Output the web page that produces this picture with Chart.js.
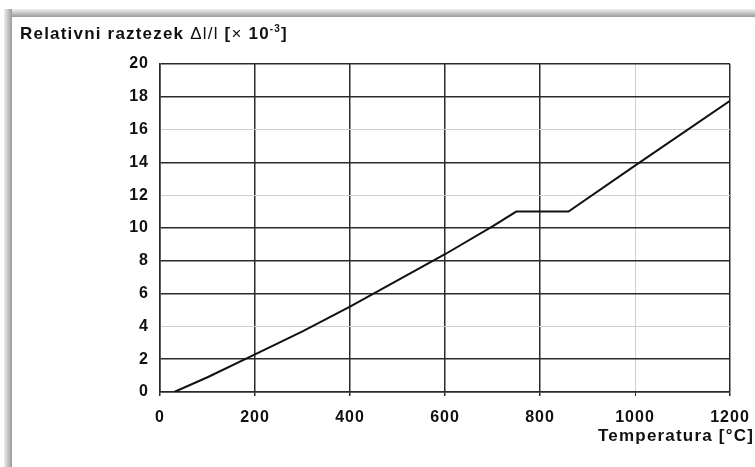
<!DOCTYPE html>
<html>
<head>
<meta charset="utf-8">
<script src="https://cdn.jsdelivr.net/npm/chart.js@4"></script>
<style>
  html, body { margin: 0; padding: 0; background: #fff; }
  #wrap { position: relative; width: 755px; height: 467px; overflow: hidden; font-family: "Liberation Sans", Arial, sans-serif; }
  #frameTop { position: absolute; left: 4px; top: 9px; width: 751px; height: 8px; background: linear-gradient(#f2f2f2, #9a9a9a); }
  #frameLeft { position: absolute; left: 4px; top: 9px; width: 8px; height: 458px; background: linear-gradient(to right, #eeeeee, #9a9a9a); }
  canvas { position: absolute; left: 0; top: 0; }
  .title { position: absolute; font-weight: bold; font-size: 17px; color: #111; white-space: nowrap; letter-spacing: 1.2px; }
  #yTitle { left: 20px; top: 23px; }
  #xTitle { left: 598px; top: 426px; }
  .light { font-weight: normal; }
</style>
</head>
<body>
<div id="wrap">
  <div id="frameTop"></div>
  <div id="frameLeft"></div>
  <canvas id="myChart" width="755" height="467"></canvas>
  <div class="title" id="yTitle">Relativni raztezek <span class="light">Δl/l</span> [<span class="light">×</span> 10<sup style="font-size:10px">-3</sup>]</div>
  <div class="title" id="xTitle">Temperatura [°C]</div>
</div>
<script>
// 温度 (°C) 与 相对伸长 (×10^-3)
const temperatures = [30, 100, 200, 300, 400, 500, 600, 700, 750, 860, 1000, 1200];
const elongation = [0, 0.9, 2.3, 3.7, 5.2, 6.8, 8.4, 10.1, 11.0, 11.0, 13.8, 17.75];

// 坐标轴刻度
const xTicks = [0, 200, 400, 600, 800, 1000, 1200];
const yTicks = [0, 2, 4, 6, 8, 10, 12, 14, 16, 18, 20];

// 扫描图中较淡的网格线
const faintX = [1000];
const faintY = [4, 12, 16];

const points = temperatures.map((t, i) => ({ x: t, y: elongation[i] }));

const ctx = document.getElementById('myChart').getContext('2d');

const tickFont = { family: '"Liberation Sans", Arial, sans-serif', size: 16, weight: 'bold' };

// 字距稍宽一点，接近原图
const spacing = {
    id: 'spacing',
    beforeDraw: chart => { chart.ctx.letterSpacing = '1px'; }
};

const config = {
    type: 'scatter',
    data: {
        datasets: [{
            data: points,
            showLine: true,
            borderColor: '#111',
            borderWidth: 2,
            pointRadius: 0,
            tension: 0
        }]
    },
    options: {
        responsive: false,
        animation: false,
        layout: { padding: { left: 0, right: 25, top: 64, bottom: 0 } },
        plugins: { legend: { display: false }, tooltip: { enabled: false } },
        scales: {
            x: {
                type: 'linear',
                min: 0,
                max: 1200,
                afterBuildTicks: axis => { axis.ticks = xTicks.map(v => ({ value: v })); },
                afterFit: axis => {
                    axis.height = 75;
                    axis.paddingLeft = 0;
                    axis.paddingRight = 0;
                },
                ticks: { color: '#111', font: tickFont, padding: 12, callback: v => String(v) },
                grid: {
                    color: c => faintX.includes(c.tick.value) ? '#cfcfcf' : '#2a2a2a',
                    lineWidth: c => faintX.includes(c.tick.value) ? 1 : 1.5,
                    tickLength: 4,
                    tickColor: '#2a2a2a'
                },
                border: { color: '#2a2a2a', width: 1.5 }
            },
            y: {
                min: 0,
                max: 20,
                afterBuildTicks: axis => { axis.ticks = yTicks.map(v => ({ value: v })); },
                afterFit: axis => { axis.width = 160; },
                ticks: { color: '#111', font: tickFont, padding: 11, callback: v => String(v) },
                grid: {
                    color: c => faintY.includes(c.tick.value) ? '#cfcfcf' : '#2a2a2a',
                    lineWidth: c => faintY.includes(c.tick.value) ? 1 : 1.5,
                    drawTicks: false
                },
                border: { color: '#2a2a2a', width: 1.5 }
            }
        }
    },
    plugins: [spacing]
};

const myChart = new Chart(ctx, config);
</script>
</body>
</html>
